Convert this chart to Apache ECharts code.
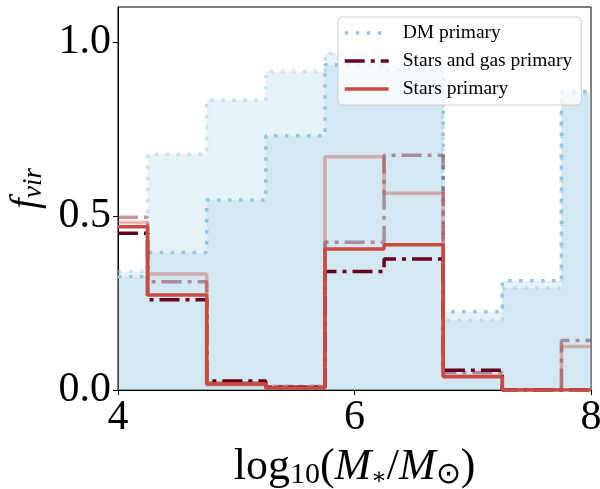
<!DOCTYPE html>
<html>
<head>
<meta charset="utf-8">
<script src="https://cdn.jsdelivr.net/npm/echarts@6/dist/echarts.min.js"></script>
<style>
  html, body { margin: 0; padding: 0; background: #fff; }
  #main { width: 600px; height: 489px; }
</style>
</head>
<body>
<div id="main"></div>
<script>
// bin left edges (last entry closes the final bin)
var binEdges = [4, 4.25, 4.75, 5.25, 5.75, 6.25, 6.75, 7.25, 7.75, 8];

// fraction per bin
var dmPrimary      = [0.325, 0.395, 0.546, 0.730, 0.934, 0.920, 0.225, 0.314, 0.857];
var dmFaded        = [0.340, 0.677, 0.833, 0.915, 0.967, 0.915, 0.200, 0.293, 0.850];
var starsGasPrimary = [0.450, 0.259, 0.026, 0.008, 0.340, 0.376, 0.057, 0.000, 0.000];
var starsGasFaded   = [0.496, 0.311, 0.020, 0.010, 0.424, 0.674, 0.050, 0.000, 0.142];
var starsPrimary   = [0.469, 0.273, 0.017, 0.006, 0.405, 0.417, 0.038, 0.000, 0.000];
var starsFaded     = [0.481, 0.333, 0.015, 0.008, 0.670, 0.565, 0.040, 0.000, 0.125];

var xTicks = [4, 6, 8];
var yTicks = [0, 0.5, 1.0];

var blue = '#92c5de';
var red = '#cb4a3f';
var maroon = '#67001f';
var serif = 'Liberation Serif';

// turn bin values into step points
function steps(vals) {
    var pts = [];
    for (var i = 0; i < vals.length; i++) {
        pts.push([binEdges[i], vals[i]]);
    }
    pts.push([binEdges[binEdges.length - 1], vals[vals.length - 1]]);
    return pts;
}

function histLine(name, vals, color, width, type, opacity, fill) {
    var s = {
        name: name,
        type: 'line',
        step: 'end',
        symbol: 'none',
        silent: true,
        data: steps(vals),
        itemStyle: {color: color, opacity: opacity},
        lineStyle: {
            color: color,
            width: width,
            type: type,
            opacity: opacity,
            cap: 'butt'
        }
    };
    if (fill) {
        s.areaStyle = {color: blue, opacity: 0.23};
    }
    return s;
}

var chart = echarts.init(document.getElementById('main'), null, {renderer: 'canvas'});

var option = {
    animation: false,
    grid: {
        left: 118, right: 9, top: 7, bottom: 99,
        outerBoundsMode: 'none',
        containLabel: false,
        show: true,
        borderColor: '#000',
        borderWidth: 1,
        backgroundColor: 'transparent'
    },
    legend: {
        data: ['DM primary', 'Stars and gas primary', 'Stars primary'],
        orient: 'vertical',
        left: 338,
        top: 17,
        padding: [6, 9, 6, 5],
        itemWidth: 44,
        itemHeight: 20,
        itemGap: 8,
        itemStyle: {opacity: 0},
        lineStyle: {width: 3.5},
        backgroundColor: 'rgba(255,255,255,0.8)',
        borderColor: '#cccccc',
        borderWidth: 1,
        borderRadius: 4,
        textStyle: {
            fontFamily: serif,
            fontSize: 19.5,
            lineHeight: 20,
            color: '#000',
            padding: [0, 0, 0, 9]
        }
    },
    xAxis: {
        type: 'value',
        min: 4,
        max: 8,
        interval: 2,
        name: '{r|log}{s|10}{r|(}{i|M}{a|∗}{r|/}{i|M}{s|⊙}{r|)}',
        nameLocation: 'middle',
        nameGap: 54,
        nameTextStyle: {
            rich: {
                r: {fontFamily: serif, fontSize: 44, color: '#000', lineHeight: 46},
                i: {fontFamily: serif, fontSize: 44, fontStyle: 'italic', color: '#000', lineHeight: 46},
                s: {fontFamily: serif, fontSize: 30, color: '#000', lineHeight: 29, verticalAlign: 'bottom'},
                a: {fontFamily: 'DejaVu Serif', fontSize: 23, color: '#000', lineHeight: 27, verticalAlign: 'bottom'}
            }
        },
        splitLine: {show: false},
        axisLine: {show: true, onZero: false, lineStyle: {color: '#000', width: 1}},
        axisTick: {show: true, length: 5, lineStyle: {color: '#000'}, customValues: xTicks},
        axisLabel: {
            customValues: xTicks,
            fontFamily: serif,
            fontSize: 42,
            color: '#000',
            margin: 7
        }
    },
    yAxis: {
        type: 'value',
        min: 0,
        max: 1.1,
        name: '{i|f}{s|vir}',
        nameLocation: 'middle',
        nameRotate: 90,
        nameGap: 67,
        nameTextStyle: {
            rich: {
                i: {fontFamily: serif, fontSize: 39, fontStyle: 'italic', color: '#000', lineHeight: 42, padding: [0, 0, 0, 20]},
                s: {fontFamily: serif, fontSize: 27, fontStyle: 'italic', color: '#000', lineHeight: 27, verticalAlign: 'bottom'}
            }
        },
        splitLine: {show: false},
        axisLine: {show: true, onZero: false, lineStyle: {color: '#000', width: 1}},
        axisTick: {show: true, length: 5, lineStyle: {color: '#000'}, customValues: yTicks},
        axisLabel: {
            customValues: yTicks,
            fontFamily: serif,
            fontSize: 42,
            color: '#000',
            margin: 7,
            formatter: function (v) { return v.toFixed(1); }
        }
    },
    series: [
        histLine('DM faded', dmFaded, blue, 3.5, [3.5, 7.5], 0.45, true),
        histLine('DM primary', dmPrimary, blue, 3.5, [3.5, 7.5], 1, true),
        histLine('Stars and gas faded', starsGasFaded, maroon, 3.5, [20, 6, 4, 6], 0.4, false),
        histLine('Stars faded', starsFaded, red, 3.5, 'solid', 0.4, false),
        histLine('Stars and gas primary', starsGasPrimary, maroon, 3.5, [20, 6, 4, 6], 1, false),
        histLine('Stars primary', starsPrimary, red, 3.5, 'solid', 1, false)
    ]
};

chart.setOption(option);
</script>
</body>
</html>
